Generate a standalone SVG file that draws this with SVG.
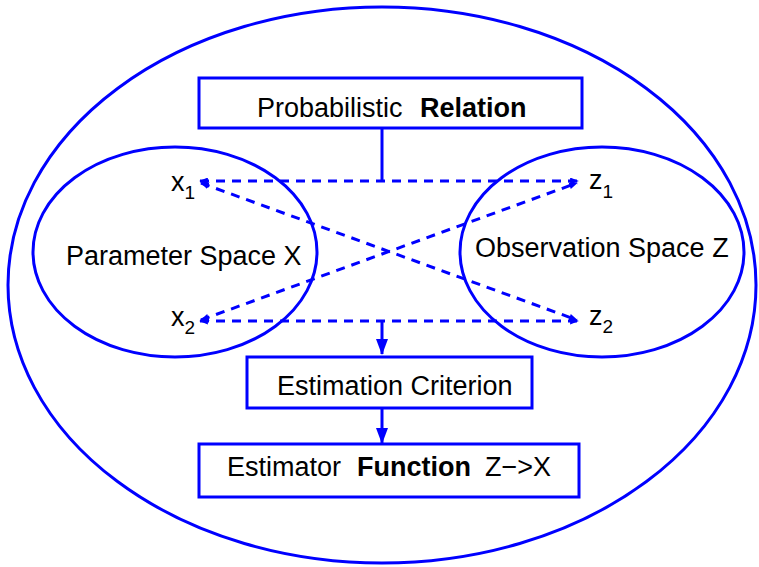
<svg xmlns="http://www.w3.org/2000/svg" width="759" height="567" viewBox="0 0 759 567">
<style>
.el{fill:none;stroke:#0000ff;stroke-width:3}
.box{fill:#fff;stroke:#0000ff;stroke-width:3}
.t{font-family:"Liberation Sans",Arial,sans-serif;font-size:27px;fill:#000}
.b{font-weight:bold}
.sub{font-size:19px}
.dash{fill:none;stroke:#0000ff;stroke-width:3;stroke-dasharray:9,7}
.solid{fill:none;stroke:#0000ff;stroke-width:3}
</style>
<defs>
<marker id="sm" viewBox="0 0 10 8" refX="9" refY="4" markerWidth="9" markerHeight="7" markerUnits="userSpaceOnUse" orient="auto-start-reverse">
<path d="M0,0 L10,4 L0,8 z" fill="#0000ff"/>
</marker>
<marker id="big" viewBox="0 0 12 16" refX="6" refY="15" markerWidth="12" markerHeight="16" markerUnits="userSpaceOnUse" orient="0">
<path d="M0,0 L12,0 L6,16 z" fill="#0000ff"/>
</marker>
</defs>
<g id="outer"><ellipse class="el" cx="382" cy="285" rx="374" ry="278"/></g>
<g id="param-space"><ellipse class="el" cx="175" cy="252" rx="142" ry="105"/>
<text class="t" x="66" y="265">Parameter Space X</text></g>
<g id="obs-space"><ellipse class="el" cx="602" cy="252" rx="142" ry="105"/>
<text class="t" x="475" y="257">Observation Space Z</text></g>
<g id="x1"><text class="t" x="171" y="191">x<tspan class="sub" dy="8">1</tspan></text></g>
<g id="x2"><text class="t" x="171" y="326">x<tspan class="sub" dy="8">2</tspan></text></g>
<g id="z1"><text class="t" x="589" y="189">z<tspan class="sub" dy="9">1</tspan></text></g>
<g id="z2"><text class="t" x="589" y="325">z<tspan class="sub" dy="8">2</tspan></text></g>
<g id="connectors">
<line class="solid" x1="382" y1="128" x2="382" y2="181"/>
<line class="dash" x1="200" y1="181" x2="578" y2="181" marker-start="url(#sm)" marker-end="url(#sm)"/>
<line class="dash" x1="200" y1="321" x2="578" y2="321" marker-start="url(#sm)" marker-end="url(#sm)"/>
<line class="dash" x1="201" y1="183" x2="577" y2="320" marker-start="url(#sm)" marker-end="url(#sm)"/>
<line class="dash" x1="201" y1="320" x2="577" y2="183" marker-start="url(#sm)" marker-end="url(#sm)"/>
<line class="solid" x1="382" y1="321" x2="382" y2="354" marker-end="url(#big)"/>
<line class="solid" x1="382" y1="408" x2="382" y2="443" marker-end="url(#big)"/>
</g>
<g id="prob-relation"><rect class="box" x="199" y="78" width="383" height="50"/>
<text class="t" y="117"><tspan x="257">Probabilistic</tspan><tspan class="b" x="420">Relation</tspan></text></g>
<g id="est-criterion"><rect class="box" x="247" y="357" width="285" height="51"/>
<text class="t" x="277" y="395">Estimation Criterion</text></g>
<g id="est-function"><rect class="box" x="199" y="444" width="380" height="53"/>
<text class="t" y="476"><tspan x="227">Estimator</tspan><tspan class="b" x="357">Function</tspan><tspan x="485">Z−&gt;X</tspan></text></g>
</svg>
